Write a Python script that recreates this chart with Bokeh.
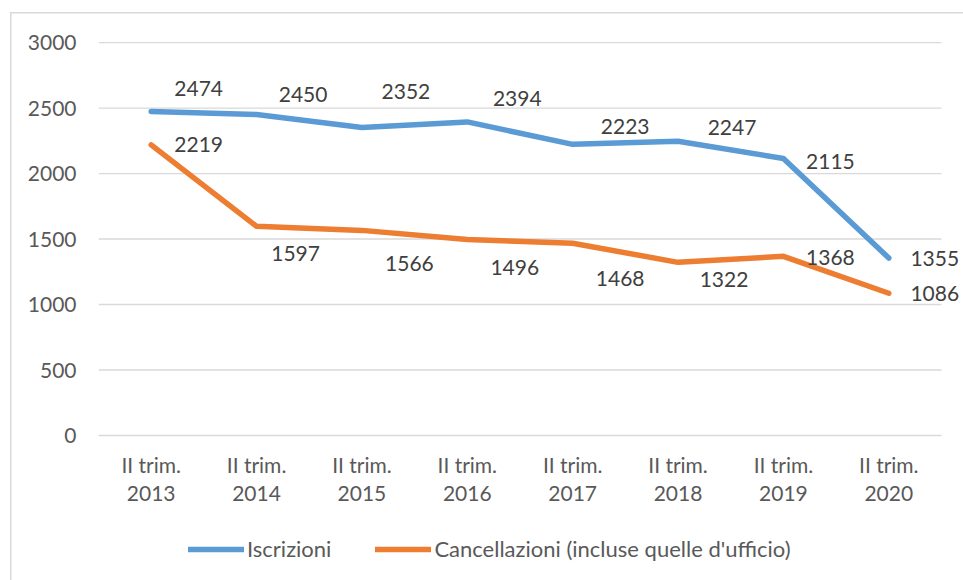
from bokeh.plotting import figure
from bokeh.models import (ColumnDataSource, Range1d, FixedTicker, Legend, LegendItem, LinearAxis)
from bokeh.core.properties import value
from bokeh.embed import file_html
from bokeh.resources import INLINE

# ---- data ----
periods = ["II trim.\n2013", "II trim.\n2014", "II trim.\n2015", "II trim.\n2016",
           "II trim.\n2017", "II trim.\n2018", "II trim.\n2019", "II trim.\n2020"]
iscrizioni = [2474, 2450, 2352, 2394, 2223, 2247, 2115, 1355]
cancellazioni = [2219, 1597, 1566, 1496, 1468, 1322, 1368, 1086]
y_ticks = [0, 500, 1000, 1500, 2000, 2500, 3000]
series_names = ["Iscrizioni", "Cancellazioni (incluse quelle d'ufficio)"]

# ---- style: label pixel offsets ----
isc_dx = [47.5, 46.5, 44, 50, 52.5, 54, 47, 46]
isc_dy = [-23, -20.5, -36, -23, -17.5, -14, 3, 0]
can_dx = [47.5, 39, 47.5, 47.5, 47.5, 46, 47, 46]
can_dy = [0, 27.5, 33.5, 27.5, 35, 17, 1, 0]

BLUE = "#5B9BD5"
ORANGE = "#ED7D31"
GRID = "#d9d9d9"
FONT = "Lato"

xs = list(range(len(periods)))
x_lo, x_hi = -0.5, len(periods) - 0.5

# frame extends below the value axis so the legend and labels can live inside it
p = figure(width=963, height=580, output_backend="svg", toolbar_location=None,
           x_range=Range1d(x_lo, x_hi + 0.19), y_range=Range1d(-1107, 3008),
           x_axis_location=None,
           min_border_left=98, min_border_right=2, min_border_top=41, min_border_bottom=0)
p.outline_line_color = None
p.background_fill_color = "white"
p.border_fill_alpha = 0
# outer chart-area frame (left and top edges), drawn as page background behind the canvas
p.styles = {
    "background": (f"linear-gradient({GRID},{GRID}) 10px 12px / 1.5px 100% no-repeat, "
                   f"linear-gradient({GRID},{GRID}) 10px 12px / 100% 1.5px no-repeat, white")
}

# category axis sitting at value 0
xaxis = LinearAxis(fixed_location=0, ticker=FixedTicker(ticks=xs),
                   major_label_overrides={i: lab for i, lab in zip(xs, periods)})
p.add_layout(xaxis, "below")
p.yaxis.ticker = FixedTicker(ticks=y_ticks)
for ax in (xaxis, p.yaxis[0]):
    ax.axis_line_color = None
    ax.major_tick_line_color = None
    ax.minor_tick_line_color = None
    ax.major_tick_out = 0
    ax.major_tick_in = 0
    ax.major_label_text_font = FONT
    ax.major_label_text_font_size = "21px"
    ax.major_label_text_color = "#595959"
p.yaxis.major_label_standoff = 22
xaxis.major_label_standoff = 16
xaxis.major_label_text_line_height = 1.15

p.xgrid.grid_line_color = None
p.ygrid.grid_line_color = None
# horizontal gridlines spanning only the category area
p.segment(x0=x_lo, x1=x_hi, y0=y_ticks, y1=y_ticks, line_color=GRID, line_width=1.3)

src = ColumnDataSource(dict(x=xs, isc=iscrizioni, can=cancellazioni,
                            isc_lbl=[str(v) for v in iscrizioni],
                            can_lbl=[str(v) for v in cancellazioni],
                            isc_dx=isc_dx, isc_dy=isc_dy, can_dx=can_dx, can_dy=can_dy))

r1 = p.line("x", "isc", source=src, line_color=BLUE, line_width=5.5,
            line_cap="round", line_join="round")
r2 = p.line("x", "can", source=src, line_color=ORANGE, line_width=5.5,
            line_cap="round", line_join="round")

p.text("x", "isc", text="isc_lbl", source=src, x_offset="isc_dx", y_offset="isc_dy",
       text_align="center", text_baseline="middle", text_font=value(FONT),
       text_font_size="21px", text_color="#404040")
p.text("x", "can", text="can_lbl", source=src, x_offset="can_dx", y_offset="can_dy",
       text_align="center", text_baseline="middle", text_font=value(FONT),
       text_font_size="21px", text_color="#404040")

legend = Legend(items=[LegendItem(label=series_names[0], renderers=[r1]),
                       LegendItem(label=series_names[1], renderers=[r2])],
                orientation="horizontal", location=(90, 18),
                glyph_width=56, glyph_height=20, label_standoff=3, spacing=44,
                padding=0, margin=0, border_line_color=None, background_fill_alpha=0,
                label_text_font=FONT, label_text_font_size="22px",
                label_text_color="#595959")
p.add_layout(legend)

open("out.html", "w").write(file_html(p, INLINE))
